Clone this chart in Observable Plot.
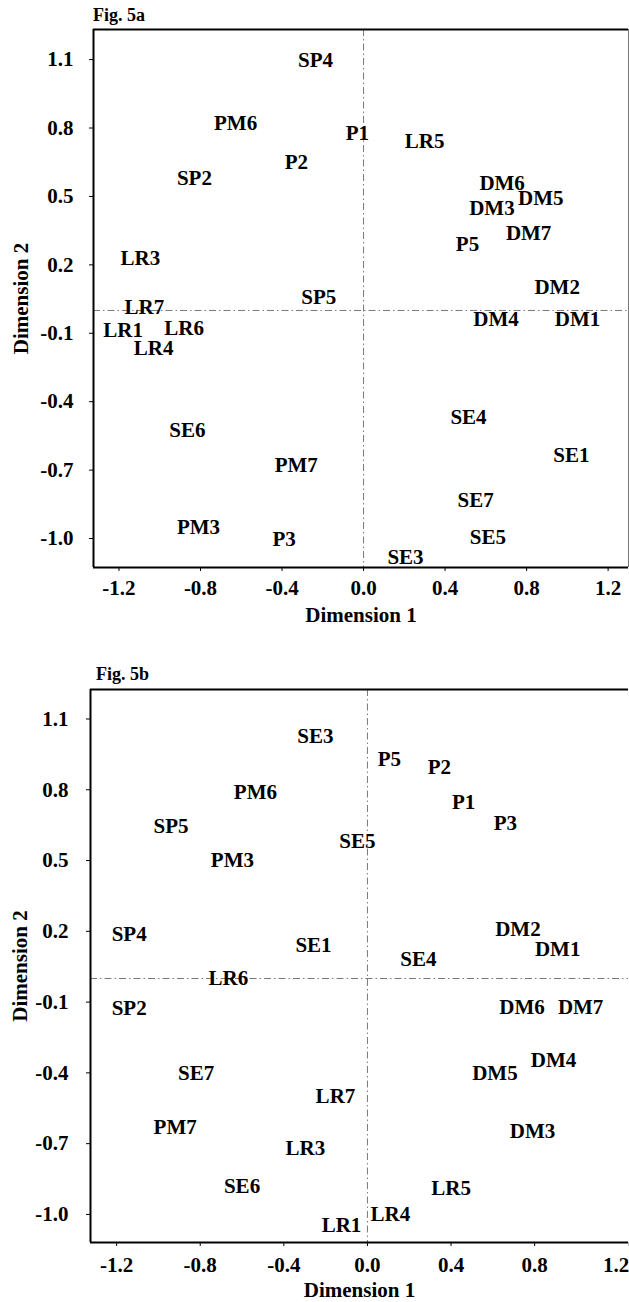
<!DOCTYPE html>
<html>
<head>
<meta charset="utf-8">
<script src="https://cdn.jsdelivr.net/npm/d3@7"></script>
<script src="https://cdn.jsdelivr.net/npm/@observablehq/plot@0.6"></script>
<style>
  html, body { margin: 0; padding: 0; background: white; }
  #wrap { position: relative; width: 629px; height: 1302px; overflow: hidden; font-family: "Liberation Serif", "Times New Roman", serif; }
  .title { position: absolute; font-weight: bold; font-size: 18px; line-height: 20px; color: black; z-index: 2; }
  .panel { position: absolute; left: 0; z-index: 1; }
</style>
</head>
<body>
<div id="wrap">
  <div class="panel" id="panelA" style="top:0px;"></div>
  <div class="panel" id="panelB" style="top:640px;"></div>
  <div class="title" id="titleA" style="left:93px; top:5px;">Fig. 5a</div>
  <div class="title" id="titleB" style="left:96px; top:664px;">Fig. 5b</div>
</div>
<script>
// ---- Data ----
const xTicks = [-1.2, -0.8, -0.4, 0.0, 0.4, 0.8, 1.2];
const yTicks = [1.1, 0.8, 0.5, 0.2, -0.1, -0.4, -0.7, -1.0];
const xTitle = "Dimension 1";
const yTitle = "Dimension 2";

// Fig. 5a
const labelsA = ["SP4","PM6","P2","SP2","P1","LR5","DM6","DM5","DM3","DM7","P5","DM2","SP5","DM4","DM1","LR3","LR7","LR1","LR6","LR4","SE6","PM7","PM3","P3","SE4","SE1","SE7","SE5","SE3"];
const dim1A = [-0.236,-0.628,-0.33,-0.83,-0.03,0.30,0.68,0.87,0.63,0.81,0.51,0.95,-0.22,0.65,1.05,-1.095,-1.075,-1.18,-0.88,-1.03,-0.864,-0.33,-0.81,-0.39,0.515,1.02,0.55,0.61,0.206];
const dim2A = [1.096,0.82,0.65,0.58,0.776,0.74,0.557,0.49,0.447,0.34,0.29,0.10,0.06,-0.04,-0.04,0.228,0.012,-0.085,-0.078,-0.167,-0.526,-0.68,-0.95,-1.005,-0.47,-0.636,-0.833,-0.996,-1.08];

// Fig. 5b
const labelsB = ["SE3","PM6","SP5","PM3","SP4","SE1","P5","P2","P1","P3","SE5","DM2","DM1","SE4","LR6","SP2","SE7","PM7","LR3","SE6","DM6","DM7","DM4","DM5","LR7","DM3","LR5","LR4","LR1"];
const dim1B = [-0.249,-0.536,-0.94,-0.646,-1.14,-0.258,0.105,0.344,0.46,0.66,-0.048,0.72,0.91,0.244,-0.665,-1.14,-0.82,-0.92,-0.297,-0.6,0.74,1.02,0.89,0.61,-0.153,0.79,0.40,0.11,-0.124];
const dim2B = [1.025,0.79,0.644,0.50,0.186,0.14,0.93,0.894,0.745,0.66,0.58,0.21,0.123,0.08,0.0,-0.127,-0.40,-0.63,-0.72,-0.88,-0.12,-0.12,-0.345,-0.40,-0.50,-0.648,-0.89,-1.0,-1.047];

// axis extents
const xDomA = [-1.325, 1.30], yDomA = [-1.127, 1.232];
const xDomB = [-1.325, 1.249], yDomB = [-1.119, 1.225];

const fmt = d => d.toFixed(1);
const FONT = '"Liberation Serif", "Times New Roman", serif';

function panel({labels, d1, d2, xDom, yDom, height, mt, mb, ml, rightEdge, xTitleDy, yTitleDx, xPad, yPad, lastTickEnd}) {
  const data = labels.map((l, i) => ({label: l, x: d1[i], y: d2[i]}));
  const innerTicks = lastTickEnd ? xTicks.slice(0, -1) : xTicks;
  const marks = [
    Plot.ruleY([0], {stroke: "#555", strokeWidth: 0.8, strokeDasharray: "7,3,1.5,3"}),
    Plot.ruleX([0], {stroke: "#555", strokeWidth: 0.8, strokeDasharray: "7,3,1.5,3"}),
    Plot.ruleX([xDom[0]], {stroke: "black", strokeWidth: 2}),
    Plot.ruleY([yDom[0]], {stroke: "black", strokeWidth: 2}),
    Plot.ruleY([yDom[1]], {stroke: "black", strokeWidth: 2}),
    Plot.axisX(innerTicks, {tickFormat: fmt, tickSize: 4, tickPadding: xPad, fontSize: 21, fontWeight: "bold", label: null}),
    Plot.axisY(yTicks, {tickFormat: fmt, tickSize: 4, tickPadding: yPad, fontSize: 21, fontWeight: "bold", label: null}),
    Plot.text([xTitle], {frameAnchor: "bottom", dy: xTitleDy, lineAnchor: "middle", textAnchor: "middle", fontSize: 21, fontWeight: "bold", fill: "black"}),
    Plot.text([yTitle], {frameAnchor: "left", dx: -yTitleDx, rotate: -90, lineAnchor: "middle", textAnchor: "middle", fontSize: 21, fontWeight: "bold", fill: "black", letterSpacing: "1px"}),
    Plot.text(data, {x: "x", y: "y", text: "label", fontSize: 21, fontWeight: "bold", fill: "black", textAnchor: "middle"})
  ];
  if (lastTickEnd) {
    marks.push(Plot.axisX(xTicks.slice(-1), {tickFormat: fmt, tickSize: 4, tickPadding: xPad, fontSize: 21, fontWeight: "bold", label: null, textAnchor: "end", dx: 11}));
  }
  if (rightEdge) marks.push(Plot.ruleX([xDom[1]], {stroke: "#777", strokeWidth: 1}));
  return Plot.plot({
    width: 629, height,
    marginTop: mt, marginBottom: mb, marginLeft: ml, marginRight: 1,
    style: {fontFamily: FONT, fontWeight: "bold", fontSize: "21px", color: "black", background: "white", overflow: "visible"},
    x: {domain: xDom, label: null},
    y: {domain: yDom, label: null},
    marks
  });
}

document.getElementById("panelA").appendChild(panel({
  labels: labelsA, d1: dim1A, d2: dim2A, xDom: xDomA, yDom: yDomA,
  height: 640, mt: 29, mb: 73, ml: 93, rightEdge: true,
  xTitleDy: 48, yTitleDx: 72, xPad: 9, yPad: 16, lastTickEnd: false
}));
document.getElementById("panelB").appendChild(panel({
  labels: labelsB, d1: dim1B, d2: dim2B, xDom: xDomB, yDom: yDomB,
  height: 662, mt: 49, mb: 60, ml: 90, rightEdge: false,
  xTitleDy: 48, yTitleDx: 70, xPad: 11, yPad: 18, lastTickEnd: true
}));
</script>
</body>
</html>
